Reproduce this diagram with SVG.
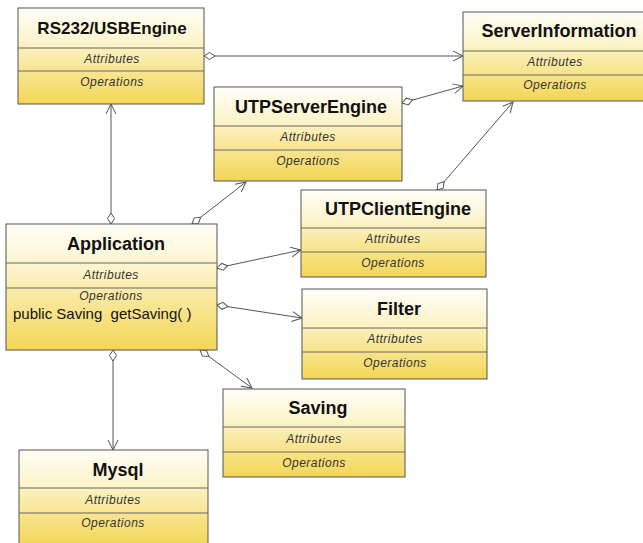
<svg xmlns="http://www.w3.org/2000/svg" width="643" height="543" viewBox="0 0 643 543">
  <style>
    .box { fill: url(#cls); stroke: #555; stroke-width: 1; }
    .div { stroke: #666; stroke-width: 1; }
    .title { font-family: "Liberation Sans", Arial, sans-serif; font-weight: bold; font-size: 18px; fill: #111; text-anchor: middle; }
    .sec { font-family: "Liberation Sans", Arial, sans-serif; font-style: italic; font-size: 12px; letter-spacing: 0.5px; fill: #333; text-anchor: middle; }
    .op { font-family: "Liberation Sans", Arial, sans-serif; font-size: 15px; fill: #111; }
    .link { fill: none; stroke: #555; stroke-width: 1; marker-start: url(#agg); marker-end: url(#nav); }
  </style>
  <defs>
    <linearGradient id="cls" x1="0" y1="0" x2="0" y2="1">
      <stop offset="0" stop-color="#fffef8"/>
      <stop offset="0.35" stop-color="#fcf4cc"/>
      <stop offset="0.6" stop-color="#f9e89c"/>
      <stop offset="1" stop-color="#f3d655"/>
    </linearGradient>
    <marker id="agg" markerUnits="userSpaceOnUse" markerWidth="14" markerHeight="10" viewBox="-1 -5 14 10" refX="0" refY="0" orient="auto">
      <path d="M0,0 L5.5,-3.5 L11,0 L5.5,3.5 Z" fill="#fff" stroke="#555" stroke-width="1"/>
    </marker>
    <marker id="nav" markerUnits="userSpaceOnUse" markerWidth="14" markerHeight="14" viewBox="-12 -7 14 14" refX="0" refY="0" orient="auto">
      <path d="M-10,-5 L0,0 L-10,5" fill="none" stroke="#555" stroke-width="1"/>
    </marker>
  </defs>

  <rect width="643" height="543" fill="#fff"/>

  <g id="connectors">
    <path class="link" d="M204,56 L463,56"/>
    <path class="link" d="M402,103 L463,86"/>
    <path class="link" d="M437,190 L513,102"/>
    <path class="link" d="M111,224 L111,104"/>
    <path class="link" d="M192,224 L246,182"/>
    <path class="link" d="M217,268 L301,250"/>
    <path class="link" d="M217,305 L302,318"/>
    <path class="link" d="M200,350 L252,388"/>
    <path class="link" d="M113,350 L113,450"/>
  </g>

  <g id="rs232-usb-engine">
    <rect class="box" x="18" y="8" width="186" height="96"/>
    <line class="div" x1="18" y1="48" x2="204" y2="48"/>
    <line class="div" x1="18" y1="71" x2="204" y2="71"/>
    <text class="title" x="112" y="34" style="font-size:17px">RS232/USBEngine</text>
    <text class="sec" x="112" y="63">Attributes</text>
    <text class="sec" x="112" y="86">Operations</text>
  </g>

  <g id="server-information">
    <rect class="box" x="463" y="12" width="184" height="89"/>
    <line class="div" x1="463" y1="51" x2="647" y2="51"/>
    <line class="div" x1="463" y1="75" x2="647" y2="75"/>
    <text class="title" x="559" y="37">ServerInformation</text>
    <text class="sec" x="555" y="66">Attributes</text>
    <text class="sec" x="555" y="89">Operations</text>
  </g>

  <g id="utp-server-engine">
    <rect class="box" x="214" y="87" width="188" height="94"/>
    <line class="div" x1="214" y1="126" x2="402" y2="126"/>
    <line class="div" x1="214" y1="150" x2="402" y2="150"/>
    <text class="title" x="311" y="113">UTPServerEngine</text>
    <text class="sec" x="308" y="141">Attributes</text>
    <text class="sec" x="308" y="165">Operations</text>
  </g>

  <g id="utp-client-engine">
    <rect class="box" x="301" y="190" width="185" height="87"/>
    <line class="div" x1="301" y1="228" x2="486" y2="228"/>
    <line class="div" x1="301" y1="252" x2="486" y2="252"/>
    <text class="title" x="398" y="215">UTPClientEngine</text>
    <text class="sec" x="393" y="243">Attributes</text>
    <text class="sec" x="393" y="267">Operations</text>
  </g>

  <g id="application">
    <rect class="box" x="6" y="224" width="211" height="126"/>
    <line class="div" x1="6" y1="263" x2="217" y2="263"/>
    <line class="div" x1="6" y1="288" x2="217" y2="288"/>
    <text class="title" x="116" y="250">Application</text>
    <text class="sec" x="111" y="279">Attributes</text>
    <text class="sec" x="111" y="300">Operations</text>
    <text class="op" x="13" y="319" xml:space="preserve">public Saving  getSaving( )</text>
  </g>

  <g id="filter">
    <rect class="box" x="302" y="289" width="185" height="90"/>
    <line class="div" x1="302" y1="328" x2="487" y2="328"/>
    <line class="div" x1="302" y1="352" x2="487" y2="352"/>
    <text class="title" x="399" y="315">Filter</text>
    <text class="sec" x="395" y="343">Attributes</text>
    <text class="sec" x="395" y="367">Operations</text>
  </g>

  <g id="saving">
    <rect class="box" x="223" y="389" width="182" height="88"/>
    <line class="div" x1="223" y1="427" x2="405" y2="427"/>
    <line class="div" x1="223" y1="452" x2="405" y2="452"/>
    <text class="title" x="318" y="414">Saving</text>
    <text class="sec" x="314" y="443">Attributes</text>
    <text class="sec" x="314" y="467">Operations</text>
  </g>

  <g id="mysql">
    <rect class="box" x="19" y="450" width="189" height="96"/>
    <line class="div" x1="19" y1="488" x2="208" y2="488"/>
    <line class="div" x1="19" y1="513" x2="208" y2="513"/>
    <text class="title" x="118" y="476">Mysql</text>
    <text class="sec" x="113" y="504">Attributes</text>
    <text class="sec" x="113" y="527">Operations</text>
  </g>
</svg>
